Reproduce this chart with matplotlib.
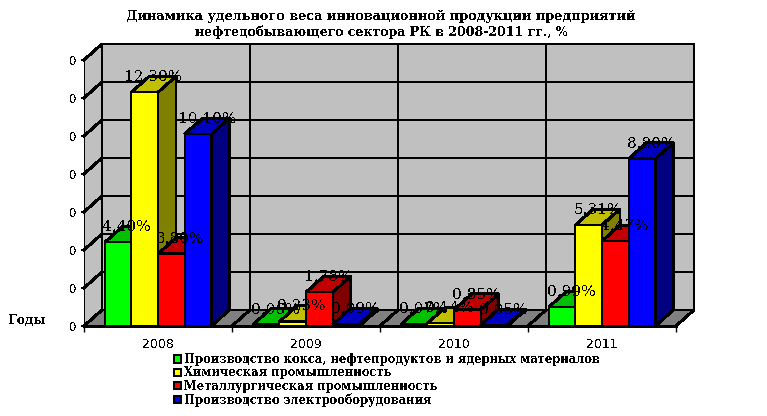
import matplotlib
matplotlib.use('Agg')
import matplotlib.pyplot as plt
from matplotlib.patches import Patch

years = ['2008', '2009', '2010', '2011']
koks = [4.40, 0.06, 0.07, 0.99]
himiya = [12.30, 0.23, 0.14, 5.31]
metall = [3.80, 1.78, 0.85, 4.47]
elektro = [10.10, 0.09, 0.05, 8.80]
y_ticks = [0, 2, 4, 6, 8, 10, 12, 14]
y_labels = ['0'] * 8
names = ['Производство кокса, нефтепродуктов и ядерных материалов',
         'Химическая промышленность',
         'Металлургическая промышленность',
         'Производство электрооборудования']
series = [koks, himiya, metall, elektro]
front_col = ['#00ff00', '#ffff00', '#ff0000', '#0000ff']
top_col = ['#00c000', '#c0c000', '#c00000', '#0000c0']
side_col = ['#008000', '#808000', '#800000', '#000080']

# глубина псевдо-3D в единицах осей
dx = 18 / 148
dy = 16 / 19
bar_w = 0.18
lw = 1.44
serif = 'DejaVu Serif'

fig = plt.figure(figsize=(7.67, 4.16), dpi=100)
ax = fig.add_axes([84 / 767, 90 / 416, 610 / 767, 282 / 416])
ax.set_xlim(0, 4 + dx)
ax.set_ylim(0, 14 + dy)
ax.patch.set_visible(False)
for s in ax.spines.values():
    s.set_visible(False)


def poly(xs, ys, col, z):
    ax.fill(xs, ys, facecolor=col, edgecolor='black', linewidth=lw, zorder=z,
            antialiased=False, clip_on=False)


# стенки и пол
ax.fill([dx, 4 + dx, 4 + dx, dx], [dy, dy, 14 + dy, 14 + dy], color='#c0c0c0', zorder=1, antialiased=False)
ax.fill([0, dx, dx, 0], [0, dy, 14 + dy, 14], color='#c0c0c0', zorder=1, antialiased=False)
ax.fill([0, 4, 4 + dx, dx], [0, 0, dy, dy], color='#808080', zorder=1, antialiased=False)
for v in y_ticks:
    ax.plot([0, dx, 4 + dx], [v, v + dy, v + dy], color='black', lw=lw, zorder=2, antialiased=False, clip_on=False)
for i in range(5):
    ax.plot([i, i + dx, i + dx], [0, dy, 14 + dy], color='black', lw=lw, zorder=2, antialiased=False, clip_on=False)
ax.plot([0, 0], [0, 14], color='black', lw=lw, zorder=2, antialiased=False)
ax.plot([0, 4], [0, 0], color='black', lw=1, zorder=2, antialiased=False, clip_on=False)

# столбцы слева направо, передние перекрывают задние
z = 3
for i in range(4):
    for k in range(4):
        v = series[k][i]
        x0 = i + 0.5 - 2 * bar_w + k * bar_w
        x1 = x0 + bar_w
        poly([x1, x1 + dx, x1 + dx, x1], [0, dy, v + dy, v], side_col[k], z)
        poly([x0, x1, x1 + dx, x0 + dx], [v, v, v + dy, v + dy], top_col[k], z)
        ax.bar(x0, v, bar_w, align='edge', color=front_col[k], edgecolor='black',
               linewidth=lw, zorder=z, antialiased=False)
        z += 1

# подписи значений поверх всего
for i in range(4):
    for k in range(4):
        v = series[k][i]
        x0 = i + 0.5 - 2 * bar_w + k * bar_w
        ax.text(x0 + bar_w / 2 + dx / 2, v + dy, ('%.2f%%' % v).replace('.', ','),
                ha='center', va='center', family=serif, fontsize=11, color='black',
                zorder=100, antialiased=False)

ax.set_yticks(y_ticks, y_labels, family='DejaVu Sans', fontsize=8.5)
ax.set_xticks([0, 1, 2, 3, 4], [''] * 5)
ax.set_xticks([0.5, 1.5, 2.5, 3.5], years, minor=True, family='DejaVu Sans', fontsize=9)
ax.tick_params(axis='y', length=2.5, width=lw, pad=2.5)
ax.tick_params(axis='x', which='major', length=4, width=1)
ax.tick_params(axis='x', which='minor', length=0, pad=8.5)
for t in ax.get_yticklabels() + ax.get_xticklabels(minor=True):
    t.set_antialiased(False)

fig.text(381 / 767, 1 - 16 / 416, 'Динамика удельного веса инновационной продукции предприятий',
         ha='center', va='center', family=serif, weight='bold', fontsize=9.3, antialiased=False)
fig.text(381 / 767, 1 - 32 / 416, 'нефтедобывающего сектора РК в 2008-2011 гг., %',
         ha='center', va='center', family=serif, weight='bold', fontsize=9, antialiased=False)
fig.text(8 / 767, 1 - 321 / 416, 'Годы', ha='left', va='center', family=serif, weight='bold',
         fontsize=9, antialiased=False)

handles = [Patch(facecolor=c, edgecolor='black', linewidth=lw) for c in front_col]
leg = fig.legend(handles, names, loc='upper left', bbox_to_anchor=(174 / 767, 1 - 353 / 416),
                 frameon=False, handlelength=0.6, handleheight=0.6, handletextpad=0.3,
                 labelspacing=0.03, borderpad=0, borderaxespad=0,
                 prop={'family': serif, 'weight': 'bold', 'size': 8.3})
for t in leg.get_texts():
    t.set_antialiased(False)

fig.savefig('out.png', dpi=100)
